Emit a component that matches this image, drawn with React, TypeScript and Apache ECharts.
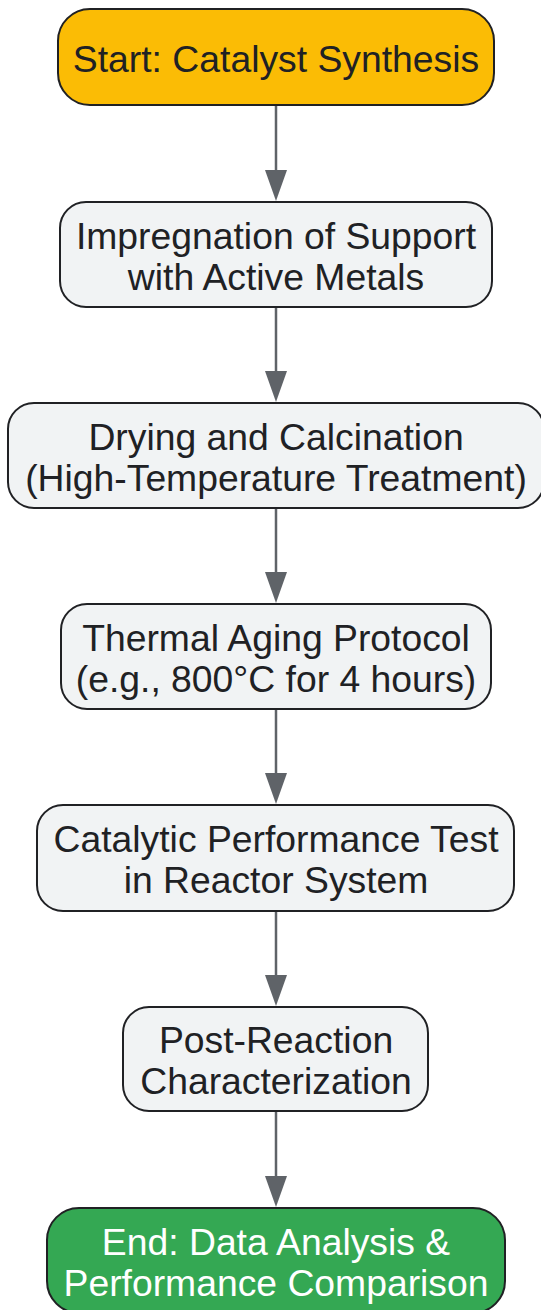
import React, { useEffect, useRef } from "react";
import * as echarts from "echarts";

const stepLabels: string[] = [
  "Start: Catalyst Synthesis",
  "Impregnation of Support\nwith Active Metals",
  "Drying and Calcination\n(High-Temperature Treatment)",
  "Thermal Aging Protocol\n(e.g., 800°C for 4 hours)",
  "Catalytic Performance Test\nin Reactor System",
  "Post-Reaction\nCharacterization",
  "End: Data Analysis &\nPerformance Comparison",
];
const stepKinds: string[] = ["start", "step", "step", "step", "step", "step", "end"];

// layout (pixels): box left, top, right, bottom
const boxLeft = [58, 60, 8, 61, 37, 123, 47];
const boxRight = [494, 492, 544, 491, 514, 428, 505];
const boxTop = [9, 202, 403, 604, 805, 1007, 1208];
const boxBottom = [105, 307, 508, 709, 911, 1111, 1313];

const fills: Record<string, string> = { start: "#FBBC05", step: "#F1F3F4", end: "#34A853" };
const textColors: Record<string, string> = { start: "#202124", step: "#202124", end: "#FFFFFF" };
const radii: Record<string, number> = { start: 32, step: 26, end: 32 };

export default function App() {
  const ref = useRef<HTMLDivElement>(null);
  useEffect(() => {
    document.body.style.margin = "0";
    if (!ref.current) return;
    const chart = echarts.init(ref.current, undefined, { renderer: "svg" });
    const elements: any[] = [];
    const cx = 276;
    // arrows
    for (let i = 0; i < stepLabels.length - 1; i++) {
      const y0 = boxBottom[i] + 1;
      const tip = boxTop[i + 1] - 1;
      const headH = 31;
      elements.push({
        type: "line",
        shape: { x1: cx, y1: y0, x2: cx, y2: tip - headH + 2 },
        style: { stroke: "#5F6368", lineWidth: 2.5 },
        z: 1,
      });
      elements.push({
        type: "polygon",
        shape: { points: [[cx - 11, tip - headH], [cx + 11, tip - headH], [cx, tip]] },
        style: { fill: "#5F6368" },
        z: 1,
      });
    }
    // boxes
    stepLabels.forEach((label, i) => {
      const kind = stepKinds[i];
      const x = boxLeft[i];
      const y = boxTop[i];
      const w = boxRight[i] - boxLeft[i];
      const h = boxBottom[i] - boxTop[i];
      elements.push({
        type: "rect",
        shape: { x, y, width: w, height: h, r: radii[kind] },
        style: { fill: fills[kind], stroke: "#202124", lineWidth: 2 },
        z: 2,
      });
      elements.push({
        type: "text",
        x: cx,
        y: y + h / 2 + 1.5,
        style: {
          text: label,
          fill: textColors[kind],
          font: '37.3px "Liberation Sans", Arial, sans-serif',
          lineHeight: 41,
          align: "center",
          verticalAlign: "middle",
        },
        z: 3,
      });
    });
    chart.setOption({
      animation: false,
      backgroundColor: "#FFFFFF",
      graphic: { elements },
    });
    return () => chart.dispose();
  }, []);
  return <div ref={ref} style={{ width: 541, height: 1310 }} />;
}
